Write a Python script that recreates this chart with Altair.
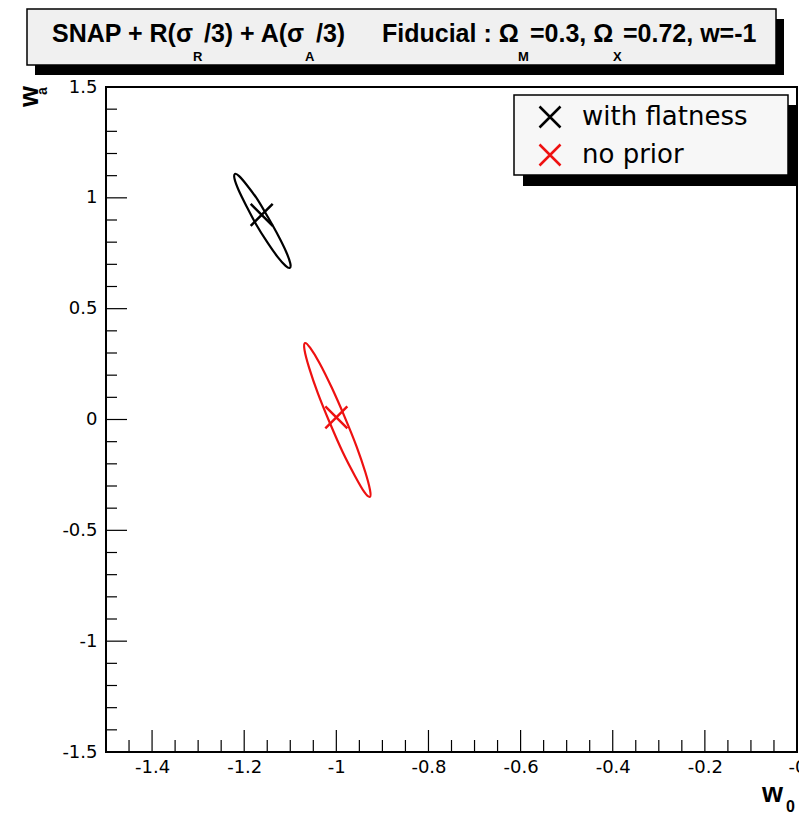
import altair as alt
import pandas as pd

# ---------------- data ----------------
series_names = ["with flatness", "no prior"]
series_colors = ["#000000", "#ee1111"]

# contour of the "with flatness" ellipse (w0, wa)
flat_w0 = [-1.101, -1.100, -1.109, -1.126, -1.148, -1.171, -1.194, -1.211,
           -1.220, -1.221, -1.212, -1.195, -1.174, -1.150, -1.128, -1.110]
flat_wa = [0.684, 0.705, 0.757, 0.829, 0.911, 0.992, 1.057, 1.098,
           1.108, 1.086, 1.034, 0.962, 0.880, 0.800, 0.735, 0.693]
# contour of the "no prior" ellipse (w0, wa)
nop_w0 = [-0.927, -0.927, -0.937, -0.956, -0.982, -1.010, -1.036, -1.057,
          -1.068, -1.069, -1.059, -1.040, -1.014, -0.986, -0.959, -0.939]
nop_wa = [-0.349, -0.317, -0.238, -0.122, 0.012, 0.144, 0.253, 0.324,
          0.345, 0.313, 0.233, 0.118, -0.016, -0.148, -0.257, -0.328]

# best-fit markers
center_w0 = [-1.162, -1.000]
center_wa = [0.923, 0.010]

# axis ticks
x_labels = [-1.4, -1.2, -1.0, -0.8, -0.6, -0.4, -0.2, 0.0]
x_major = [-1.4, -1.2, -1.0, -0.8, -0.6, -0.4, -0.2]
x_minor = [-1.45, -1.35, -1.3, -1.25, -1.15, -1.1, -1.05, -0.95, -0.9, -0.85,
           -0.75, -0.7, -0.65, -0.55, -0.5, -0.45, -0.35, -0.3, -0.25, -0.15,
           -0.1, -0.05]
y_labels = [-1.5, -1.0, -0.5, 0.0, 0.5, 1.0, 1.5]
y_major = [-1.0, -0.5, 0.0, 0.5, 1.0]
y_minor = [-1.4, -1.3, -1.2, -1.1, -0.9, -0.8, -0.7, -0.6, -0.4, -0.3, -0.2,
           -0.1, 0.1, 0.2, 0.3, 0.4, 0.6, 0.7, 0.8, 0.9, 1.1, 1.2, 1.3, 1.4]

# title pieces: (text, kind)
title_pieces = [("SNAP + R(σ", "main"), ("R", "sub"), ("/3) + A(σ", "main"),
                ("A", "sub"), ("/3)", "main"), ("Fiducial : Ω", "main"),
                ("M", "sub"), ("=0.3, Ω", "main"), ("X", "sub"),
                ("=0.72, w=-1", "main")]
title_x = [52, 193, 204, 305, 316, 382, 518, 530, 613, 623]

# ---------------- layout ----------------
W, H = 691, 665
OX, OY = 106, 87  # plot origin in page pixels

xscale = alt.Scale(domain=[-1.5, 0.0], nice=False, zero=False)
yscale = alt.Scale(domain=[-1.5, 1.5], nice=False, zero=False)

xaxis = alt.Axis(values=x_labels, labelExpr="datum.value == 0 ? '-0' : '' + datum.value",
                 tickSize=0, domain=False, grid=False, title=None,
                 labelFont="DejaVu Sans", labelFontSize=18, labelColor="black",
                 labelPadding=6, labelFlush=False, labelOverlap=False)
yaxis = alt.Axis(values=y_labels, labelExpr="'' + datum.value",
                 tickSize=0, domain=False, grid=False, title=None,
                 labelFont="DejaVu Sans", labelFontSize=18, labelColor="black",
                 labelPadding=9, labelFlush=False, labelOverlap=False)


def X(f="w0"):
    return alt.X(f"{f}:Q", scale=xscale, axis=xaxis)


def Y(f="wa"):
    return alt.Y(f"{f}:Q", scale=yscale, axis=yaxis)


one = pd.DataFrame({"k": [0]})

rows = []
for i, (a, b) in enumerate(zip(flat_w0, flat_wa)):
    rows.append({"series": series_names[0], "i": i, "w0": a, "wa": b})
for i, (a, b) in enumerate(zip(nop_w0, nop_wa)):
    rows.append({"series": series_names[1], "i": i, "w0": a, "wa": b})
ell = pd.DataFrame(rows)
cent = pd.DataFrame({"series": series_names, "w0": center_w0, "wa": center_wa})

XPATH = "M-1,-1L1,1M-1,1L1,-1"

layers = []


def box(x1, y1, x2, y2, fill, stroke=None):
    kw = dict(fill=fill)
    if stroke:
        kw.update(stroke=stroke, strokeWidth=1.5)
    return alt.Chart(one).mark_rect(**kw).encode(
        x=alt.value(x1 - OX), x2=alt.value(x2 - OX),
        y=alt.value(y1 - OY), y2=alt.value(y2 - OY))


# title box
layers.append(box(35, 19, 784, 75, "black"))
layers.append(box(27, 9, 776, 65, "#f0f0f0", "black"))
for (txt, kind), xp in zip(title_pieces, title_x):
    if kind == "main":
        m = alt.Chart(one).mark_text(text=txt, font="Liberation Sans", fontWeight="bold",
                                     fontSize=25, align="left", baseline="alphabetic",
                                     color="black")
        yy = 42
    else:
        m = alt.Chart(one).mark_text(text=txt, font="Liberation Sans", fontWeight="bold",
                                     fontSize=13, align="left", baseline="alphabetic",
                                     color="black")
        yy = 61
    layers.append(m.encode(x=alt.value(xp - OX), y=alt.value(yy - OY)))

# ticks
tx_major = pd.DataFrame({"w0": x_major})
tx_minor = pd.DataFrame({"w0": x_minor})
ty_major = pd.DataFrame({"wa": y_major})
ty_minor = pd.DataFrame({"wa": y_minor})
layers.append(alt.Chart(tx_major).mark_rule(color="black", strokeWidth=1.2).encode(
    x=X(), y=alt.value(H), y2=alt.value(H - 22)))
layers.append(alt.Chart(tx_minor).mark_rule(color="black", strokeWidth=1.2).encode(
    x=X(), y=alt.value(H), y2=alt.value(H - 12)))
layers.append(alt.Chart(ty_major).mark_rule(color="black", strokeWidth=1.2).encode(
    y=Y(), x=alt.value(0), x2=alt.value(21)))
layers.append(alt.Chart(ty_minor).mark_rule(color="black", strokeWidth=1.2).encode(
    y=Y(), x=alt.value(0), x2=alt.value(11)))

# ellipses
for name, col in zip(series_names, series_colors):
    layers.append(alt.Chart(ell).transform_filter(alt.datum.series == name).mark_line(
        interpolate="cardinal-closed", color=col, strokeWidth=2.2).encode(
        x=X(), y=Y(), order="i:Q"))

# legend box (drawn behind the legend)
layers.append(box(523, 105, 797, 186, "black"))
layers.append(box(514, 95, 788, 175, "#f7f7f7", "black"))

# best-fit crosses with legend
layers.append(alt.Chart(cent).mark_point(shape=XPATH, filled=False, strokeWidth=2.5,
                                         size=484, opacity=1).encode(
    x=X(), y=Y(),
    color=alt.Color("series:N", scale=alt.Scale(domain=series_names, range=series_colors),
                    legend=alt.Legend(title=None, orient="none", legendX=537 - OX,
                                      legendY=104 - OY, symbolType=XPATH, symbolSize=441,
                                      symbolStrokeWidth=2.5, labelFont="DejaVu Sans",
                                      labelFontSize=26, labelColor="black", labelOffset=19,
                                      rowPadding=6, padding=0, labelLimit=400))))

# axis titles
layers.append(alt.Chart(one).mark_text(text="w", font="Liberation Sans", fontWeight="bold",
                                       fontSize=27, align="left", baseline="alphabetic",
                                       color="black").encode(
    x=alt.value(762 - OX), y=alt.value(802 - OY)))
layers.append(alt.Chart(one).mark_text(text="0", font="Liberation Sans", fontWeight="bold",
                                       fontSize=16, align="left", baseline="alphabetic",
                                       color="black").encode(
    x=alt.value(786 - OX), y=alt.value(812 - OY)))
layers.append(alt.Chart(one).mark_text(text="w", font="Liberation Sans", fontWeight="bold",
                                       fontSize=27, align="left", baseline="alphabetic",
                                       angle=270, color="black").encode(
    x=alt.value(38 - OX), y=alt.value(107 - OY)))
layers.append(alt.Chart(one).mark_text(text="a", font="Liberation Sans", fontWeight="bold",
                                       fontSize=14, align="left", baseline="alphabetic",
                                       angle=270, color="black").encode(
    x=alt.value(47 - OX), y=alt.value(95 - OY)))

chart = alt.layer(*layers).properties(
    width=W, height=H,
    autosize=alt.AutoSizeParams(type="none"),
    padding={"left": OX, "top": OY, "right": 799 - OX - W, "bottom": 813 - OY - H},
    background="white",
).configure_view(stroke="black", strokeWidth=2)

chart.save("out.html", embed_options={"renderer": "svg", "actions": False})
